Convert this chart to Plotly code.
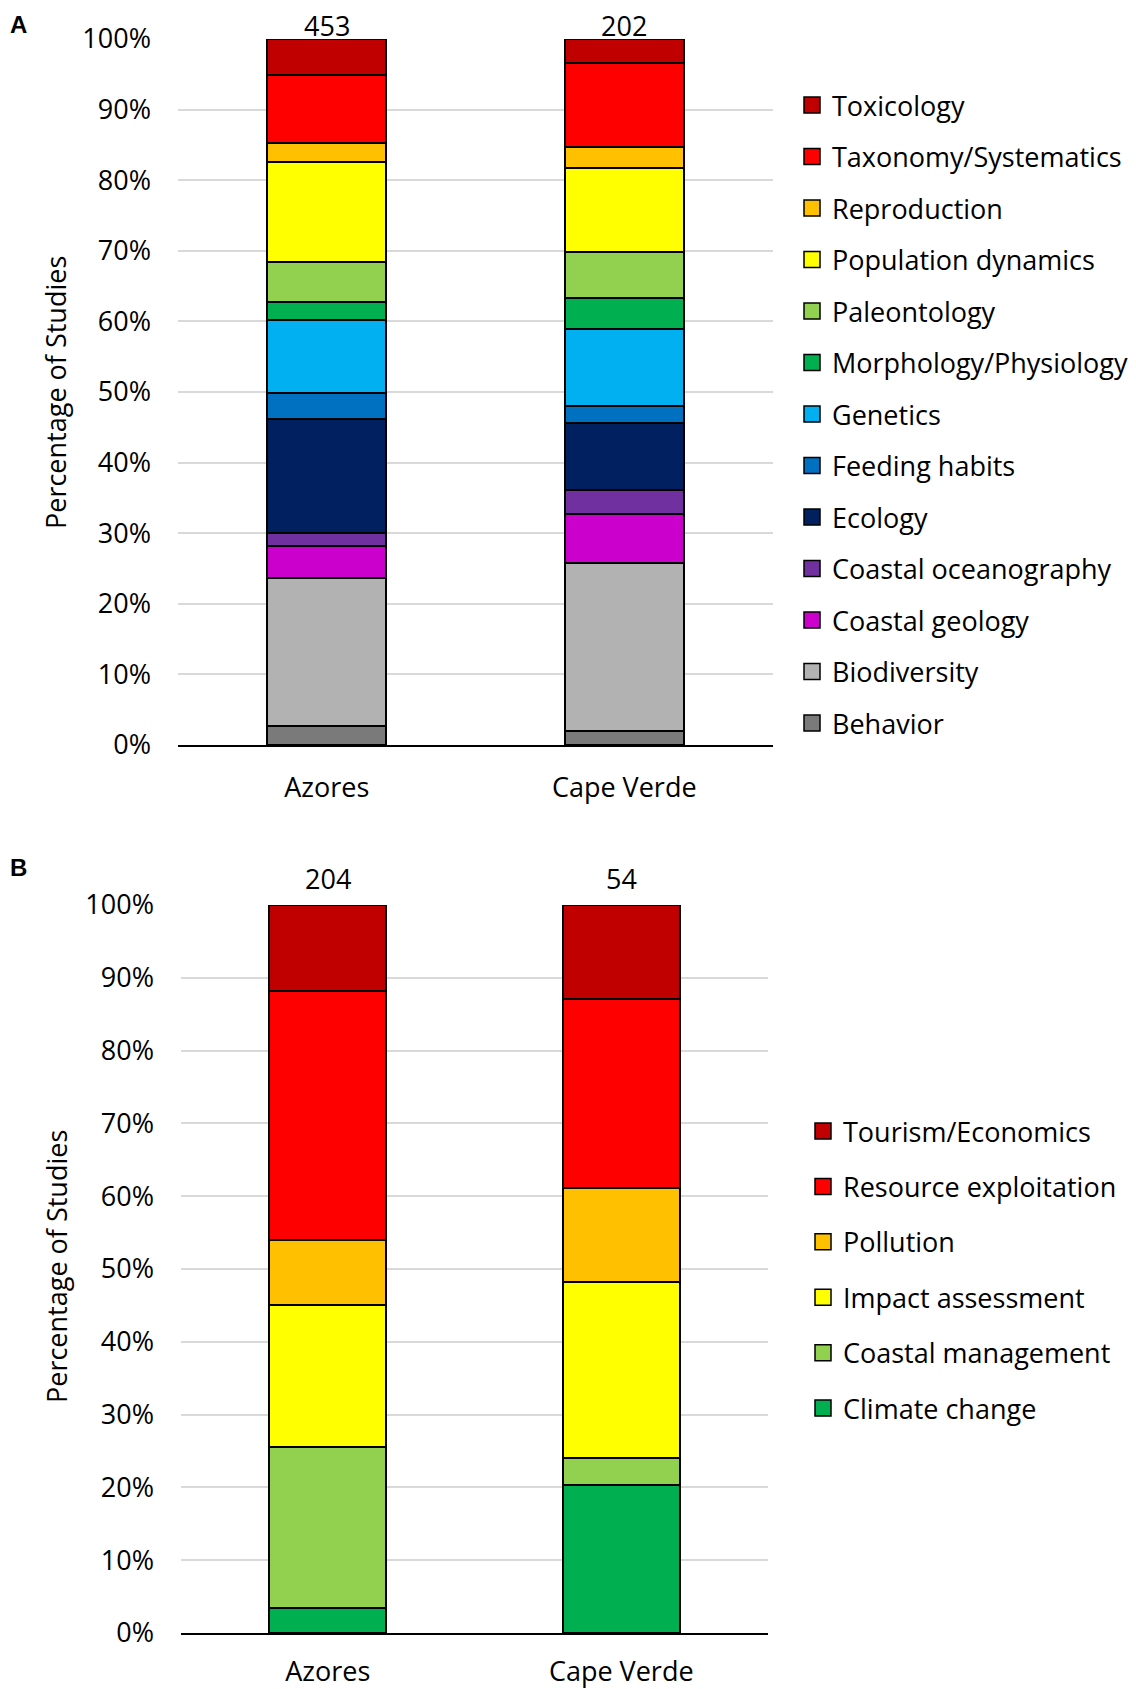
import plotly.graph_objects as go

islands = ["Azores", "Cape Verde"]

# panel A - number of studies per research topic (bottom of stack first)
topics_a = ["Behavior", "Biodiversity", "Coastal geology", "Coastal oceanography", "Ecology",
            "Feeding habits", "Genetics", "Morphology/Physiology", "Paleontology",
            "Population dynamics", "Reproduction", "Taxonomy/Systematics", "Toxicology"]
azores_a = [12, 95, 21, 8, 73, 17, 47, 11, 26, 64, 12, 44, 23]
capeverde_a = [4, 48, 14, 7, 19, 5, 22, 9, 13, 24, 6, 24, 7]
colors_a = ["#7a7a7a", "#b2b2b2", "#cc00cc", "#7030a0", "#002060", "#0070c0", "#00b0f0",
            "#00b050", "#92d050", "#ffff00", "#ffc000", "#ff0000", "#c00000"]

# panel B - management topics
topics_b = ["Climate change", "Coastal management", "Impact assessment", "Pollution",
            "Resource exploitation", "Tourism/Economics"]
azores_b = [7, 45, 40, 18, 70, 24]
capeverde_b = [11, 2, 13, 7, 14, 7]
colors_b = ["#00b050", "#92d050", "#ffff00", "#ffc000", "#ff0000", "#c00000"]

pct_ticks = list(range(0, 101, 10))
pct_labels = ["{}%".format(v) for v in pct_ticks]

font = "Open Sans, Segoe UI, sans-serif"
fsize = 27

W, H = 1136, 1689
OFF = 8  # page body margin


def px(v):
    return (v - OFF) / W


def py(v):
    return 1 - (v - OFF) / H


fig = go.Figure()


def add_panel(topics, az, cv, colors, xa, ya, leg, total_shift):
    for i in range(len(topics)):
        fig.add_trace(go.Bar(x=islands, y=[az[i], cv[i]], name=topics[i],
                             marker=dict(color=colors[i], line=dict(color="black", width=2)),
                             xaxis=xa, yaxis=ya, showlegend=False))
    # legend entries, top of stack listed first
    for i in reversed(range(len(topics))):
        fig.add_trace(go.Scatter(x=[None], y=[None], mode="markers", name=topics[i],
                                 marker=dict(symbol="square", size=16, color=colors[i],
                                             line=dict(color="black", width=1.5)),
                                 xaxis=xa, yaxis=ya, legend=leg, legendgroup=topics[i]))
    totals = [sum(az), sum(cv)]
    for k in range(2):
        fig.add_annotation(x=islands[k], y=100, xref=xa, yref=ya, text=str(totals[k]),
                           showarrow=False, yanchor="bottom", yshift=total_shift,
                           font=dict(family=font, size=fsize, color="black"))


add_panel(topics_a, azores_a, capeverde_a, colors_a, "x", "y", "legend", -7)
add_panel(topics_b, azores_b, capeverde_b, colors_b, "x2", "y2", "legend2", 6)

yax = dict(range=[0, 100], tickvals=pct_ticks, ticktext=pct_labels,
           showgrid=True, gridcolor="#d9d9d9", gridwidth=2, zeroline=False, automargin=False,
           ticks="", ticklabelstandoff=26, fixedrange=True,
           tickfont=dict(family=font, size=fsize, color="black"))
xax = dict(showline=True, linecolor="black", linewidth=2, ticks="", ticklabelstandoff=18,
           fixedrange=True, automargin=False, tickfont=dict(family=font, size=fsize, color="black"))

leg = dict(font=dict(family=font, size=fsize, color="black"), xanchor="left", yanchor="top",
           bgcolor="rgba(0,0,0,0)", itemclick=False)

fig.update_layout(
    width=W, height=H,
    margin=dict(l=0, r=0, t=0, b=0, autoexpand=False),
    paper_bgcolor="white", plot_bgcolor="white",
    barmode="stack", barnorm="percent", bargap=0.6,
    xaxis=dict(xax, domain=[px(178), px(773)], anchor="y"),
    yaxis=dict(yax, domain=[py(745), py(39)], anchor="x"),
    xaxis2=dict(xax, domain=[px(181), px(768)], anchor="y2", ticklabelstandoff=14),
    yaxis2=dict(yax, domain=[py(1633), py(905)], anchor="x2"),
    legend=dict(leg, x=px(792), y=py(81), tracegroupgap=13.4),
    legend2=dict(leg, x=px(803), y=py(1107), tracegroupgap=17.3),
    showlegend=True,
)

# axis titles and panel letters
for yc in [393, 1267]:
    fig.add_annotation(x=px(56), y=py(yc), xref="paper", yref="paper", text="Percentage of Studies",
                       textangle=-90, showarrow=False, xanchor="center", yanchor="middle",
                       font=dict(family=font, size=fsize, color="black"))
for letter, yc in [("A", 25), ("B", 867)]:
    fig.add_annotation(x=0, y=py(yc), xref="paper", yref="paper", text="<b>" + letter + "</b>",
                       xanchor="left", yanchor="middle", showarrow=False,
                       font=dict(family="Liberation Sans, Arial, sans-serif", size=24, color="black"))

fig.write_html("out.html")
